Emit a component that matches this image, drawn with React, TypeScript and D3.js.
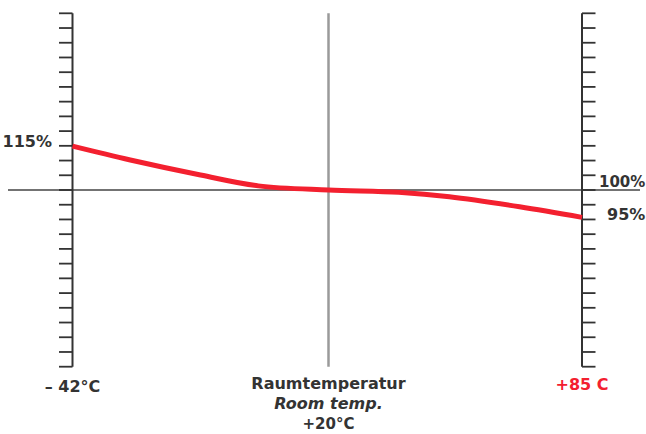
import React, { useEffect, useRef } from 'react';
import * as d3 from 'd3';

// Temperature points (°C) and relative capacity (%)
const temps = [-42, -28, -11, 3, 20, 38, 51, 69, 85];
const capacity = [114.9, 110.2, 105.1, 101.4, 100, 99.2, 97.7, 94.3, 90.7];

// axis ticks (percent), one every 5%
const tickValues = d3.range(40, 161, 5);

const axisTemps = [-42, 20, 85];
const leftLabel = '115%';
const rightTopLabel = '100%';
const rightBottomLabel = '95%';
const xLabels = ['– 42°C', '+85 C'];
const centerLabels = ['Raumtemperatur', 'Room temp.', '+20°C'];

const App = () => {
  const svgRef = useRef<SVGSVGElement>(null);

  useEffect(() => {
    const svg = d3.select(svgRef.current);
    svg.selectAll('*').remove();

    const font = '"DejaVu Sans", sans-serif';
    const ink = '#333';
    const red = '#f3202f';

    // the three vertical lines are not evenly spaced in °C, so piecewise scale
    const x = d3.scaleLinear().domain(axisTemps).range([72.5, 328.5, 582]);
    const y = d3.scaleLinear().domain([40, 160]).range([366.7, 13.3]);

    // 100% reference line
    svg.append('line')
      .attr('x1', 8).attr('x2', 640)
      .attr('y1', y(100)).attr('y2', y(100))
      .attr('stroke', '#444').attr('stroke-width', 1.4);

    // centre line (room temperature)
    svg.append('line')
      .attr('x1', x(20)).attr('x2', x(20))
      .attr('y1', y(160)).attr('y2', y(40))
      .attr('stroke', '#9a9a9a').attr('stroke-width', 2.5);

    // left axis, ticks pointing left
    const left = svg.append('g').attr('transform', `translate(${x(-42)},0)`);
    left.append('line')
      .attr('y1', y(160)).attr('y2', y(40))
      .attr('stroke', ink).attr('stroke-width', 2);
    left.selectAll('line.tick').data(tickValues).enter().append('line')
      .attr('class', 'tick')
      .attr('x1', -13.5).attr('x2', 0)
      .attr('y1', d => y(d)).attr('y2', d => y(d))
      .attr('stroke', ink).attr('stroke-width', 1.8);

    // right axis, ticks pointing right
    const right = svg.append('g').attr('transform', `translate(${x(85)},0)`);
    right.append('line')
      .attr('y1', y(160)).attr('y2', y(40))
      .attr('stroke', ink).attr('stroke-width', 2);
    right.selectAll('line.tick').data(tickValues).enter().append('line')
      .attr('class', 'tick')
      .attr('x1', 0).attr('x2', 13.5)
      .attr('y1', d => y(d)).attr('y2', d => y(d))
      .attr('stroke', ink).attr('stroke-width', 1.8);

    // capacity curve
    const line = d3.line<number>()
      .x((d, i) => x(temps[i]))
      .y(d => y(d))
      .curve(d3.curveCatmullRom.alpha(0.5));

    svg.append('path')
      .datum(capacity)
      .attr('d', line)
      .attr('fill', 'none')
      .attr('stroke', red)
      .attr('stroke-width', 5);

    const text = (t: string, tx: number, ty: number, anchor: string, color = ink, italic = false, size = 16) => {
      svg.append('text')
        .attr('x', tx).attr('y', ty)
        .attr('text-anchor', anchor)
        .attr('font-family', font)
        .attr('font-weight', 'bold')
        .attr('font-style', italic ? 'italic' : 'normal')
        .attr('font-size', size)
        .attr('fill', color)
        .text(t);
    };

    text(leftLabel, 52, 147, 'end');
    text(rightTopLabel, 599, 187, 'start', ink, false, 15);
    text(rightBottomLabel, 607, 220, 'start');

    text(xLabels[0], x(-42), 392, 'middle');
    text(xLabels[1], x(85), 390, 'middle', red);

    text(centerLabels[0], x(20), 389, 'middle');
    text(centerLabels[1], x(20), 409, 'middle', ink, true);
    text(centerLabels[2], x(20), 429, 'middle', ink, false, 15);
  }, []);

  return (
    <svg
      ref={svgRef}
      width={646}
      height={434}
      style={{ position: 'absolute', left: 0, top: 0, background: '#fff' }}
    />
  );
};

export default App;
